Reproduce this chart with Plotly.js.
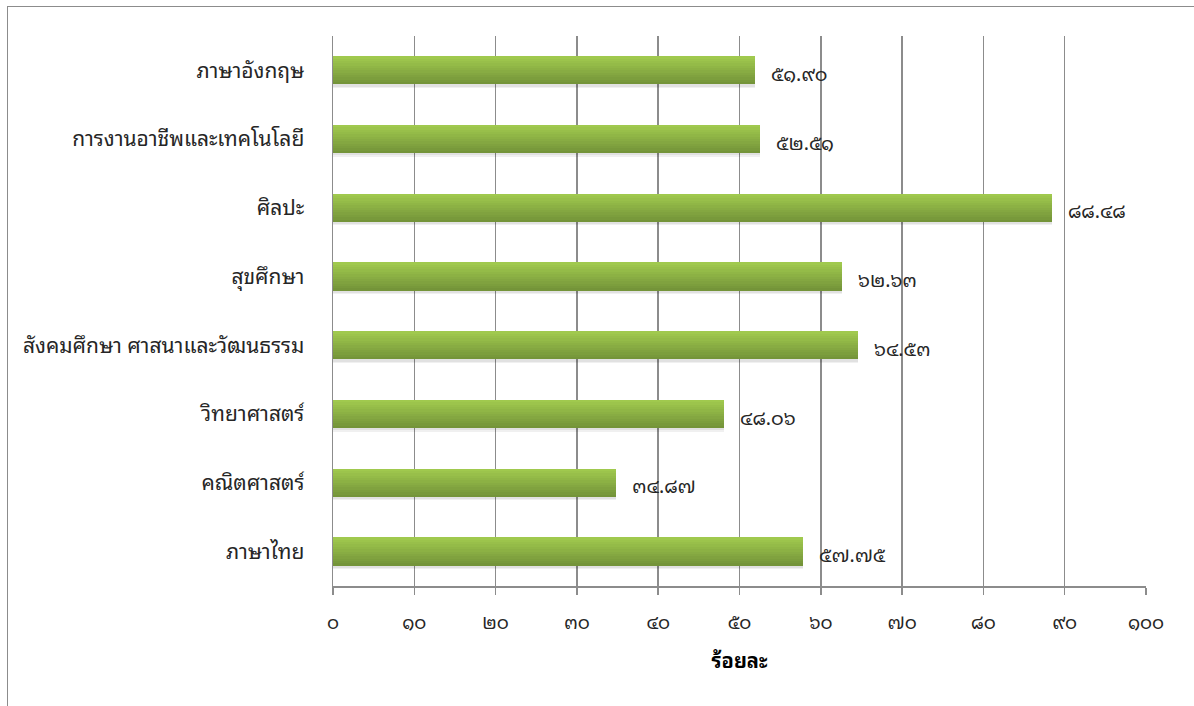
<!DOCTYPE html>
<html>
<head>
<meta charset="utf-8">
<script src="https://cdn.plot.ly/plotly-3.0.1.min.js"></script>
<style>
  html, body { margin: 0; padding: 0; background: #fff; overflow: hidden; }
  #frame { position: absolute; left: 7px; top: 6px; width: 1300px; height: 800px;
           border-left: 1.5px solid #8c8c8c; border-top: 1.5px solid #8c8c8c; }
  #chart { position: absolute; left: 0; top: 0; width: 1194px; height: 706px; }
</style>
</head>
<body>
<div id="frame"></div>
<div id="chart"></div>
<script>
// Data (bottom to top)
const categories = [
  "ภาษาไทย",
  "คณิตศาสตร์",
  "วิทยาศาสตร์",
  "สังคมศึกษา ศาสนาและวัฒนธรรม",
  "สุขศึกษา",
  "ศิลปะ",
  "การงานอาชีพและเทคโนโลยี",
  "ภาษาอังกฤษ"
];
const values = [57.75, 34.87, 48.06, 64.53, 62.63, 88.48, 52.51, 51.90];
const tickValues = [0, 10, 20, 30, 40, 50, 60, 70, 80, 90, 100];
const axisTitle = "ร้อยละ";

const thaiDigits = "๐๑๒๓๔๕๖๗๘๙";
function toThai(s) { return String(s).replace(/[0-9]/g, d => thaiDigits[+d]); }

const FONT = "Tahoma, 'Noto Sans Thai Looped', Garuda, Loma, Norasi, Kinnari, 'TH Sarabun New', 'Noto Sans Thai', 'DejaVu Sans', 'Noto Sans', sans-serif";
const TXT = '#262626';

const barWidth = 0.41;
const nStrips = 12;
const topColor = [160, 201, 78];
const botColor = [116, 148, 57];
const traces = [];

// soft shadow
[0.05, 0.03].forEach(d => {
  traces.push({
    type: 'bar', orientation: 'h', y: categories, x: values,
    width: barWidth, offset: -barWidth / 2 - d,
    marker: { color: 'rgba(0,0,0,0.06)', line: { width: 0 } },
    hoverinfo: 'skip', showlegend: false
  });
});

// gradient strips
const sw = barWidth / nStrips;
for (let i = 0; i < nStrips; i++) {
  const t = i / (nStrips - 1); // 0 = top, 1 = bottom
  const c = topColor.map((v, k) => Math.round(v + (botColor[k] - v) * t));
  traces.push({
    type: 'bar', orientation: 'h', y: categories, x: values,
    width: sw * 1.05,
    offset: barWidth / 2 - (i + 1) * sw,
    marker: { color: `rgb(${c[0]},${c[1]},${c[2]})`, line: { width: 0 } },
    hoverinfo: i === 0 ? 'x+y' : 'skip', showlegend: false
  });
}

const annotations = values.map((v, i) => ({
  x: v, y: categories[i], xref: 'x', yref: 'y',
  text: toThai(v.toFixed(2)), showarrow: false,
  xanchor: 'left', xshift: 14, yshift: -2,
  font: { family: FONT, size: 19.5, color: TXT }
}));

const layout = {
  width: 1194, height: 706,
  margin: { l: 333, r: 48, t: 36, b: 120 },
  paper_bgcolor: 'rgba(0,0,0,0)', plot_bgcolor: 'rgba(0,0,0,0)',
  barmode: 'overlay',
  bargap: 0,
  showlegend: false,
  xaxis: {
    range: [0, 100], tickvals: tickValues, ticktext: tickValues.map(toThai),
    showgrid: true, gridcolor: '#8c8c8c', gridwidth: 1.5,
    showline: true, linecolor: '#8c8c8c', linewidth: 1.5,
    ticks: 'outside', ticklen: 7, tickcolor: '#8c8c8c', tickwidth: 1.5,
    ticklabelstandoff: 12,
    tickfont: { family: FONT, size: 18.5, color: TXT },
    zeroline: false, fixedrange: true,
    title: { text: axisTitle, font: { family: FONT, size: 20, color: '#000', weight: 'bold' }, standoff: 20 }
  },
  yaxis: {
    type: 'category', categoryorder: 'array', categoryarray: categories,
    range: [-0.5, categories.length - 0.5],
    showgrid: false, showline: true, linecolor: '#8c8c8c', linewidth: 1.5,
    ticks: '', ticklabelstandoff: 23,
    tickfont: { family: FONT, size: 21, color: TXT },
    zeroline: false, fixedrange: true
  },
  annotations: annotations
};

Plotly.newPlot('chart', traces, layout, { displayModeBar: false, staticPlot: true });
</script>
</body>
</html>
